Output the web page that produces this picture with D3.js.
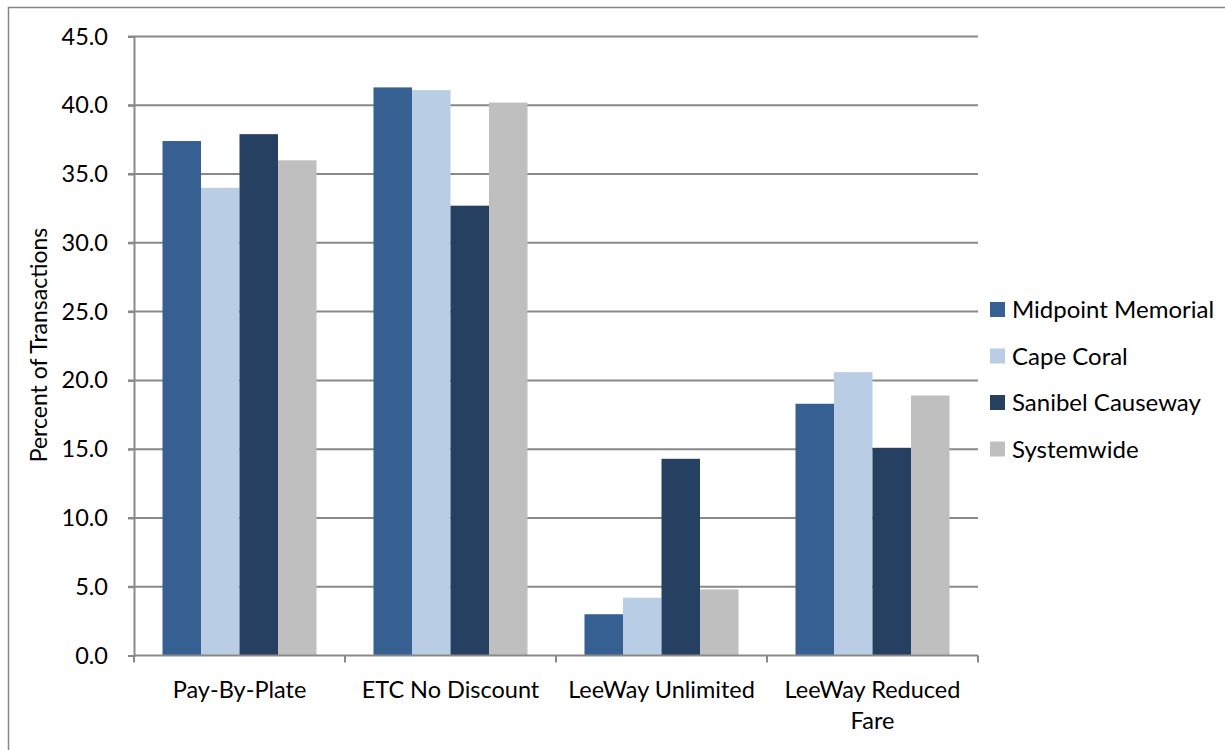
<!DOCTYPE html>
<html><head><meta charset="utf-8">
<script src="https://cdn.jsdelivr.net/npm/d3@7"></script>
<style>body{margin:0;background:#fff}svg{display:block}text{font-family:Lato,"Open Sans",sans-serif;fill:#000}</style>
</head><body><svg id="c" width="1225" height="750"></svg>
<script>
const categories = ["Pay-By-Plate", "ETC No Discount", "LeeWay Unlimited", "LeeWay Reduced Fare"];
const seriesNames = ["Midpoint Memorial", "Cape Coral", "Sanibel Causeway", "Systemwide"];
const midpoint = [37.4, 41.3, 3.0, 18.3];
const capeCoral = [34.0, 41.1, 4.2, 20.6];
const sanibel = [37.9, 32.7, 14.3, 15.1];
const systemwide = [36.0, 40.2, 4.8, 18.9];
const yTicks = [0, 5, 10, 15, 20, 25, 30, 35, 40, 45];
const colors = ["#366092", "#B9CDE5", "#254061", "#BFBFBF"];
const seriesValues = [midpoint, capeCoral, sanibel, systemwide];

const svg = d3.select("#c");
svg.append("rect").attr("x", 8.5).attr("y", 7.5).attr("width", 1300).attr("height", 800)
  .attr("fill", "none").attr("stroke", "#868686").attr("stroke-width", 1.5);

const L = 134, R = 978, T = 36.5, B = 655.5;
const FS = 23.5;
const x0 = d3.scaleBand().domain(categories).range([L, R]).paddingInner(0).paddingOuter(0);
const x1 = d3.scaleBand().domain(seriesNames).range([0, x0.bandwidth()]).paddingInner(0).paddingOuter(0.74);
const y = d3.scaleLinear().domain([0, 45]).range([B, T]);

svg.append("g").selectAll("line").data(yTicks.filter(d => d > 0)).join("line")
  .attr("x1", L - 6).attr("x2", R).attr("y1", d => y(d)).attr("y2", d => y(d))
  .attr("stroke", "#898989").attr("stroke-width", 2);

const yAxis = d3.axisLeft(y).tickValues(yTicks).tickFormat(d3.format(".1f")).tickSize(6).tickPadding(20);
const gy = svg.append("g").attr("transform", `translate(${L},0)`).call(yAxis);
gy.select(".domain").attr("stroke", "#898989").attr("stroke-width", 2);
gy.selectAll(".tick line").attr("stroke", "#898989").attr("stroke-width", 2);
gy.selectAll("text").attr("font-size", FS).attr("fill", "#000").attr("font-family", "Lato");

const groups = svg.append("g").selectAll("g").data(categories).join("g")
  .attr("transform", c => `translate(${x0(c)},0)`);
groups.selectAll("rect").data((c, i) => seriesNames.map((s, j) => ({s, j, v: seriesValues[j][i]}))).join("rect")
  .attr("x", d => x1(d.s)).attr("width", x1.bandwidth())
  .attr("y", d => y(d.v)).attr("height", d => B - y(d.v))
  .attr("fill", d => colors[d.j]);

const xAxis = d3.axisBottom(x0).tickSize(0).tickFormat("");
const gx = svg.append("g").attr("transform", `translate(0,${B})`).call(xAxis);
gx.select(".domain").attr("stroke", "#898989").attr("stroke-width", 2).attr("d", `M${L},0H${R}`);
const bounds = categories.map(c => x0(c)).concat([R]);
svg.append("g").selectAll("line").data(bounds).join("line")
  .attr("x1", d => d).attr("x2", d => d).attr("y1", B).attr("y2", B + 7)
  .attr("stroke", "#898989").attr("stroke-width", 2);

const labelLines = [["Pay-By-Plate"], ["ETC No Discount"], ["LeeWay Unlimited"], ["LeeWay Reduced", "Fare"]];
categories.forEach((c, i) => {
  const cx = x0(c) + x0.bandwidth() / 2;
  const t = svg.append("text").attr("x", cx).attr("y", 698)
    .attr("text-anchor", "middle").attr("font-size", FS);
  labelLines[i].forEach((ln, k) => t.append("tspan").attr("x", cx).attr("dy", k ? 31 : 0).text(ln));
});

svg.append("text").attr("transform", "translate(47,345) rotate(-90)").attr("text-anchor", "middle")
  .attr("font-size", 23).text("Percent of Transactions");

const lg = svg.append("g").selectAll("g").data(seriesNames).join("g")
  .attr("transform", (d, i) => `translate(990,${310 + i * 46.5})`);
lg.append("rect").attr("x", 0).attr("y", -8).attr("width", 15).attr("height", 15).attr("fill", (d, i) => colors[i]);
lg.append("text").attr("x", 22).attr("y", 8).attr("font-size", 24).text(d => d);
</script></body></html>
